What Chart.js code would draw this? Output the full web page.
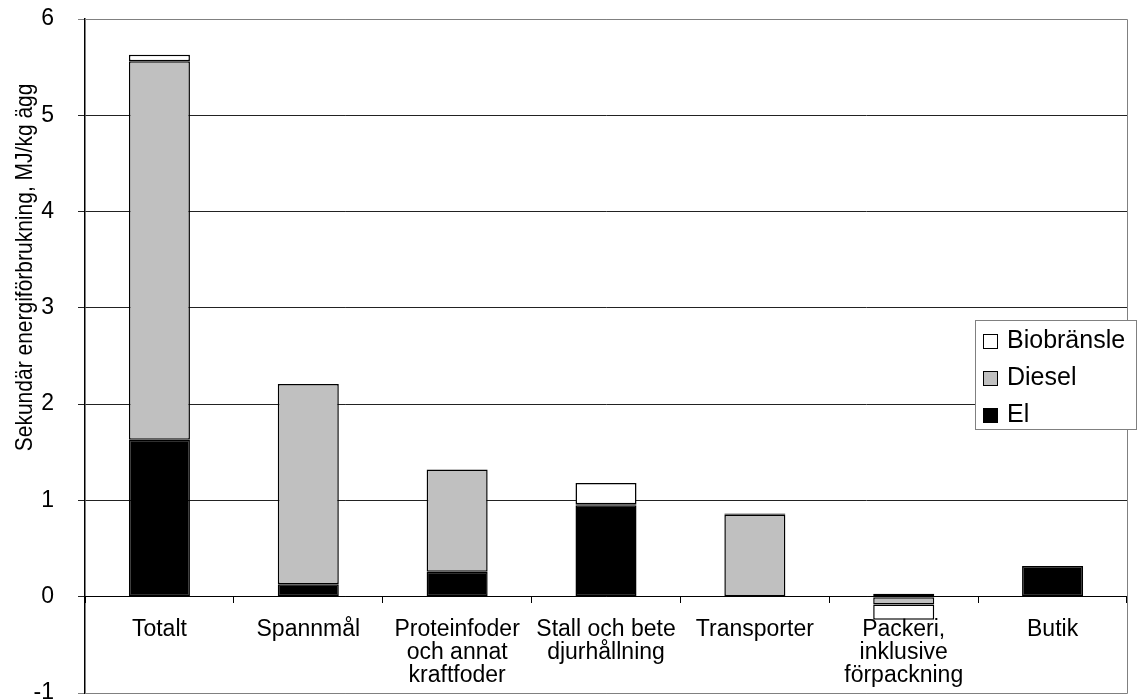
<!DOCTYPE html>
<html>
<head>
<meta charset="utf-8">
<title>Sekundär energiförbrukning</title>
<script src="https://cdn.jsdelivr.net/npm/chart.js@4.4.1/dist/chart.umd.min.js"></script>
<style>
  html, body { margin: 0; padding: 0; background: #ffffff; }
  canvas { display: block; }
</style>
</head>
<body>
<canvas id="chart" width="1138" height="700"></canvas>
<script>
// Categories along the x axis (multi-line labels as arrays)
const categories = [
  'Totalt',
  'Spannmål',
  ['Proteinfoder', 'och annat', 'kraftfoder'],
  ['Stall och bete', 'djurhållning'],
  'Transporter',
  ['Packeri,', 'inklusive', 'förpackning'],
  'Butik'
];

// Secondary energy use, MJ per kg egg, split by energy carrier
const elValues         = [1.63, 0.13, 0.26, 0.95, null, 0.03, 0.32];
const dieselValues     = [3.93, 2.08, 1.06, 0.01, 0.85, -0.08, null];
const biobransleValues = [0.07, null, null, 0.22, 0.015, -0.16, null];

const seriesNames = ['El', 'Diesel', 'Biobränsle'];
const yAxisTitle = 'Sekundär energiförbrukning, MJ/kg ägg';
const yMin = -1;
const yMax = 6;
const yStep = 1;

const FONT = '"Liberation Sans", Arial, Helvetica, sans-serif';

// Grey frame around the plot area
const framePlugin = {
  id: 'frame',
  beforeDatasetsDraw(chart) {
    const { ctx, chartArea: a } = chart;
    ctx.save();
    ctx.strokeStyle = '#808080';
    ctx.lineWidth = 1;
    ctx.beginPath();
    ctx.moveTo(a.left, a.top + 0.5);
    ctx.lineTo(a.right + 0.5, a.top + 0.5);
    ctx.lineTo(a.right + 0.5, a.bottom + 0.5);
    ctx.lineTo(a.left, a.bottom + 0.5);
    ctx.stroke();
    ctx.restore();
  }
};

// Rotated y-axis title, placed a little above the plot's vertical middle
const yTitlePlugin = {
  id: 'yTitle',
  afterDraw(chart) {
    const { ctx } = chart;
    const y = chart.scales.y;
    const cy = y.getPixelForValue(3.42);
    ctx.save();
    ctx.translate(25, cy);
    ctx.rotate(-Math.PI / 2);
    ctx.scale(1, 1.15);
    ctx.font = '21px ' + FONT;
    ctx.fillStyle = '#000000';
    ctx.textAlign = 'center';
    ctx.textBaseline = 'middle';
    ctx.fillText(yAxisTitle, 0, 0);
    ctx.restore();
  }
};

// Boxed legend at the right edge, series listed top-down in reverse stack order
const boxLegendPlugin = {
  id: 'boxLegend',
  afterDraw(chart) {
    const { ctx } = chart;
    const left = 975, top = 320, width = 161, height = 109;
    ctx.save();
    ctx.fillStyle = '#ffffff';
    ctx.fillRect(left, top, width, height);
    ctx.strokeStyle = '#808080';
    ctx.lineWidth = 1;
    ctx.strokeRect(left + 0.5, top + 0.5, width, height);
    ctx.font = '25px ' + FONT;
    ctx.textBaseline = 'alphabetic';
    ctx.textAlign = 'left';
    const sets = chart.data.datasets.slice().reverse();
    sets.forEach((ds, i) => {
      const baseY = top + 28 + i * 37;
      ctx.fillStyle = ds.backgroundColor;
      ctx.fillRect(983, baseY - 14, 14, 14);
      ctx.strokeStyle = '#000000';
      ctx.strokeRect(983.5, baseY - 13.5, 14, 14);
      ctx.fillStyle = '#000000';
      ctx.fillText(ds.label, 1007, baseY);
    });
    ctx.restore();
  }
};

const barStyle = {
  borderColor: '#000000',
  borderWidth: 1.5,
  borderSkipped: false,
  barPercentage: 0.41,
  categoryPercentage: 1.0
};

new Chart(document.getElementById('chart'), {
  type: 'bar',
  data: {
    labels: categories,
    datasets: [
      Object.assign({ label: seriesNames[0], data: elValues, backgroundColor: '#000000' }, barStyle),
      Object.assign({ label: seriesNames[1], data: dieselValues, backgroundColor: '#c0c0c0' }, barStyle),
      Object.assign({ label: seriesNames[2], data: biobransleValues, backgroundColor: '#ffffff' }, barStyle)
    ]
  },
  options: {
    responsive: false,
    animation: false,
    devicePixelRatio: 1,
    layout: { padding: { left: 0, right: 11, top: 19, bottom: 7 } },
    plugins: {
      legend: { display: false },
      tooltip: { enabled: false },
      title: { display: false }
    },
    scales: {
      x: {
        stacked: true,
        position: { y: 0 },
        offset: true,
        grid: {
          offset: true,
          drawOnChartArea: false,
          drawTicks: true,
          tickLength: 6,
          color: '#000000',
          lineWidth: 1
        },
        border: { display: true, color: '#000000', width: 1 },
        ticks: {
          color: '#000000',
          padding: 15,
          maxRotation: 0,
          autoSkip: false,
          font: { family: FONT, size: 23, lineHeight: 1.0 }
        },
        afterFit(scale) {
          scale.paddingLeft = 0;
          scale.paddingRight = 0;
        }
      },
      y: {
        stacked: true,
        min: yMin,
        max: yMax,
        ticks: {
          stepSize: yStep,
          color: '#000000',
          padding: 24,
          font: { family: FONT, size: 23 }
        },
        grid: {
          drawTicks: true,
          tickLength: 7,
          lineWidth: 1,
          color(ctx) {
            const v = ctx.tick ? ctx.tick.value : null;
            return (v === yMax || v === yMin) ? '#808080' : '#222222';
          }
        },
        border: { display: true, color: '#000000', width: 1.5 },
        title: { display: false },
        afterFit(scale) {
          scale.width = 85;
          scale.paddingTop = 0;
          scale.paddingBottom = 0;
        }
      }
    }
  },
  plugins: [framePlugin, yTitlePlugin, boxLegendPlugin]
});
</script>
</body>
</html>
